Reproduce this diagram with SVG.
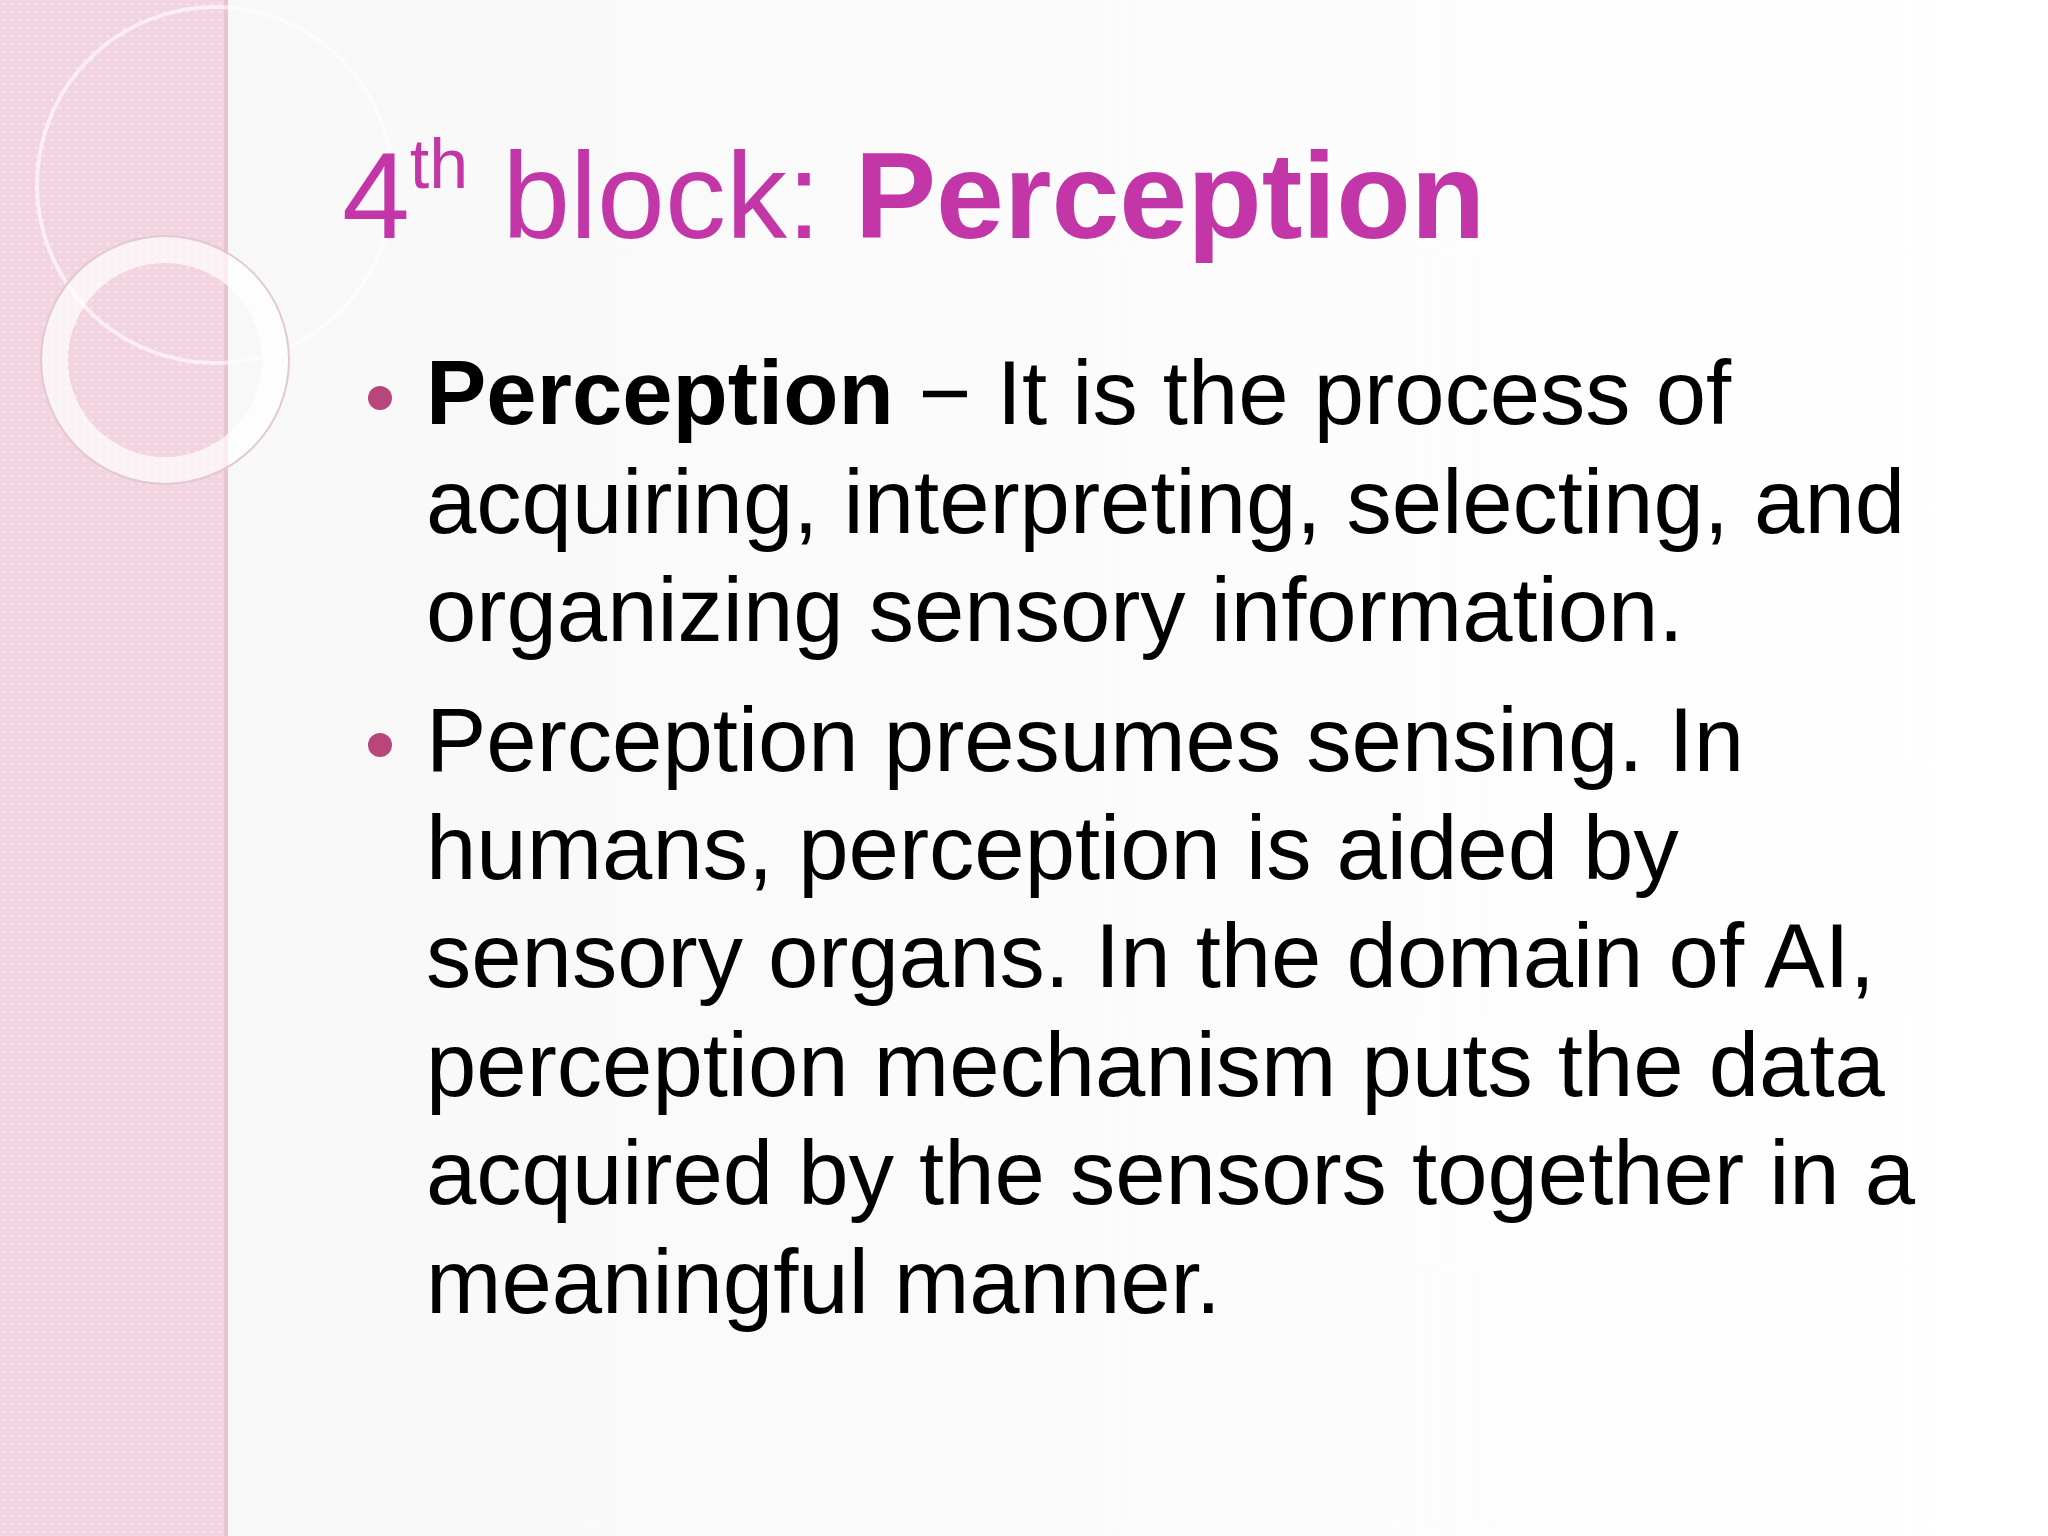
<svg xmlns="http://www.w3.org/2000/svg" width="2048" height="1536" viewBox="0 0 2048 1536">
<defs>
<pattern id="dots" width="8" height="8" patternUnits="userSpaceOnUse">
<rect width="8" height="8" fill="#f2d3e0"/>
<circle cx="4" cy="4" r="1.6" fill="#f8e6ee"/>
</pattern>
<linearGradient id="bg" x1="0" y1="0" x2="1" y2="0">
<stop offset="0" stop-color="#f7f7f7"/><stop offset="1" stop-color="#ffffff"/>
</linearGradient>
</defs>
<style>
.t{font-family:"Liberation Sans",Arial,sans-serif;fill:#c236a8}
.b{font-family:"Liberation Sans",Arial,sans-serif;font-size:90.5px;fill:#000}
</style>
<rect width="2048" height="1536" fill="url(#bg)"/>
<rect width="226" height="1536" fill="url(#dots)"/>
<rect x="224" width="4" height="1536" fill="#e9c2d3"/>
<circle cx="215" cy="185" r="178" fill="none" stroke="#ffffff" stroke-opacity="0.6" stroke-width="4"/>
<circle cx="165" cy="360" r="110" fill="none" stroke="#ffffff" stroke-opacity="0.7" stroke-width="26"/>
<circle cx="165" cy="360" r="124" fill="none" stroke="#e2c9d4" stroke-width="2"/>
<text class="t" x="342" y="238" font-size="122">4<tspan font-size="70" dy="-50">th</tspan><tspan dy="50"> block: </tspan><tspan font-weight="bold">Perception</tspan></text>
<circle cx="380" cy="398" r="12" fill="#b8467a"/>
<circle cx="380" cy="745" r="12" fill="#b8467a"/>
<text class="b" x="426" y="424"><tspan font-weight="bold">Perception</tspan> − It is the process of</text>
<text class="b" x="426" y="533">acquiring, interpreting, selecting, and</text>
<text class="b" x="426" y="641">organizing sensory information.</text>
<text class="b" x="426" y="771">Perception presumes sensing. In</text>
<text class="b" x="426" y="879">humans, perception is aided by</text>
<text class="b" x="426" y="987">sensory organs. In the domain of AI,</text>
<text class="b" x="426" y="1096">perception mechanism puts the data</text>
<text class="b" x="426" y="1204">acquired by the sensors together in a</text>
<text class="b" x="426" y="1313">meaningful manner.</text>
</svg>
